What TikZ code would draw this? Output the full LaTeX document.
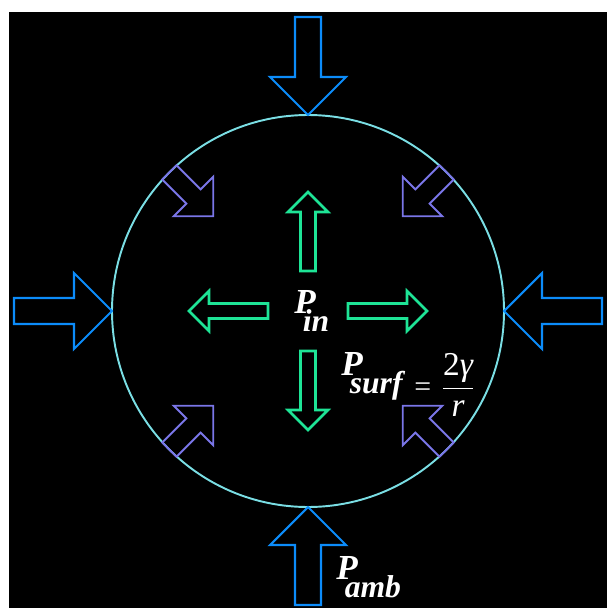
\documentclass[tikz,border=0pt]{standalone}
\usepackage{fontspec}
\setmainfont{Liberation Serif}
\definecolor{rimcyan}{RGB}{122,222,228}
\definecolor{ambblue}{RGB}{12,140,250}
\definecolor{surfpurple}{RGB}{122,118,232}
\definecolor{ingreen}{RGB}{30,228,150}

% subscript set low and tucked under the P
\newcommand{\psub}[1]{\kern-7.4pt\raisebox{-10.8pt}{\fontsize{18}{21}\selectfont #1}}

% block arrow along local +x: tail, head base, tip, head half width, shaft half width
\tikzset{
    pics/blockarrow/.style n args={5}{code={
        \draw (#1,-#5) -- (#2,-#5) -- (#2,-#4) -- (#3,0) -- (#2,#4) -- (#2,#5) -- (#1,#5) -- cycle;
    }}
}

\begin{document}
\begin{tikzpicture}[
    x=0.02cm,y=-0.02cm,
    amb/.style={ambblue,line width=1.2pt},
    surf/.style={surfpurple,line width=1.1pt},
    inward/.style={ingreen,line width=1.5pt},
    rim/.style={draw=rimcyan,line width=1.1pt},
    plabel/.style={text=white,font=\fontsize{20}{24}\selectfont\bfseries\itshape,inner sep=0pt,anchor=base west},
    rel/.style={text=white,font=\fontsize{17}{20}\selectfont,inner sep=0pt}
]
    \useasboundingbox (0,0) rectangle (607,608);
    \fill[white] (0,0) rectangle (607,608);
    \fill[black] (9,12) rectangle (607,608);

    \coordinate (c) at (308,311);
    \draw[rim] (c) circle [radius=196];

    % ambient pressure
    \pic[amb,rotate=0] at (c) {blockarrow={294}{234}{196}{38}{13}};
    \pic[amb,rotate=90] at (c) {blockarrow={294}{234}{196}{38}{13}};
    \pic[amb,rotate=180] at (c) {blockarrow={294}{234}{196}{38}{13}};
    \pic[amb,rotate=270] at (c) {blockarrow={294}{234}{196}{38}{13}};

    % surface pressure
    \pic[surf,rotate=45] at (c) {blockarrow={196}{162}{134}{28}{10}};
    \pic[surf,rotate=135] at (c) {blockarrow={196}{162}{134}{28}{10}};
    \pic[surf,rotate=225] at (c) {blockarrow={196}{162}{134}{28}{10}};
    \pic[surf,rotate=315] at (c) {blockarrow={196}{162}{134}{28}{10}};

    % inner pressure
    \pic[inward,rotate=0] at (c) {blockarrow={40}{99}{119}{20}{7.5}};
    \pic[inward,rotate=90] at (c) {blockarrow={40}{99}{119}{20}{7.5}};
    \pic[inward,rotate=180] at (c) {blockarrow={40}{99}{119}{20}{7.5}};
    \pic[inward,rotate=270] at (c) {blockarrow={40}{99}{119}{20}{7.5}};

    \node[plabel] (pin) at (294,313) {P\psub{in}};
    \node[plabel] (psurf) at (341,375) {P\psub{surf}};
    \node[rel,anchor=base west] (eq) at (414,396) {=};
    \node[rel,anchor=base,font=\fontsize{19}{22}\selectfont] (frac) at (458,396)
        {$\displaystyle\frac{\mbox{2\itshape γ}}{\mbox{\itshape r}}$};
    \node[plabel] (pamb) at (336,579) {P\psub{amb}};
\end{tikzpicture}
\end{document}
